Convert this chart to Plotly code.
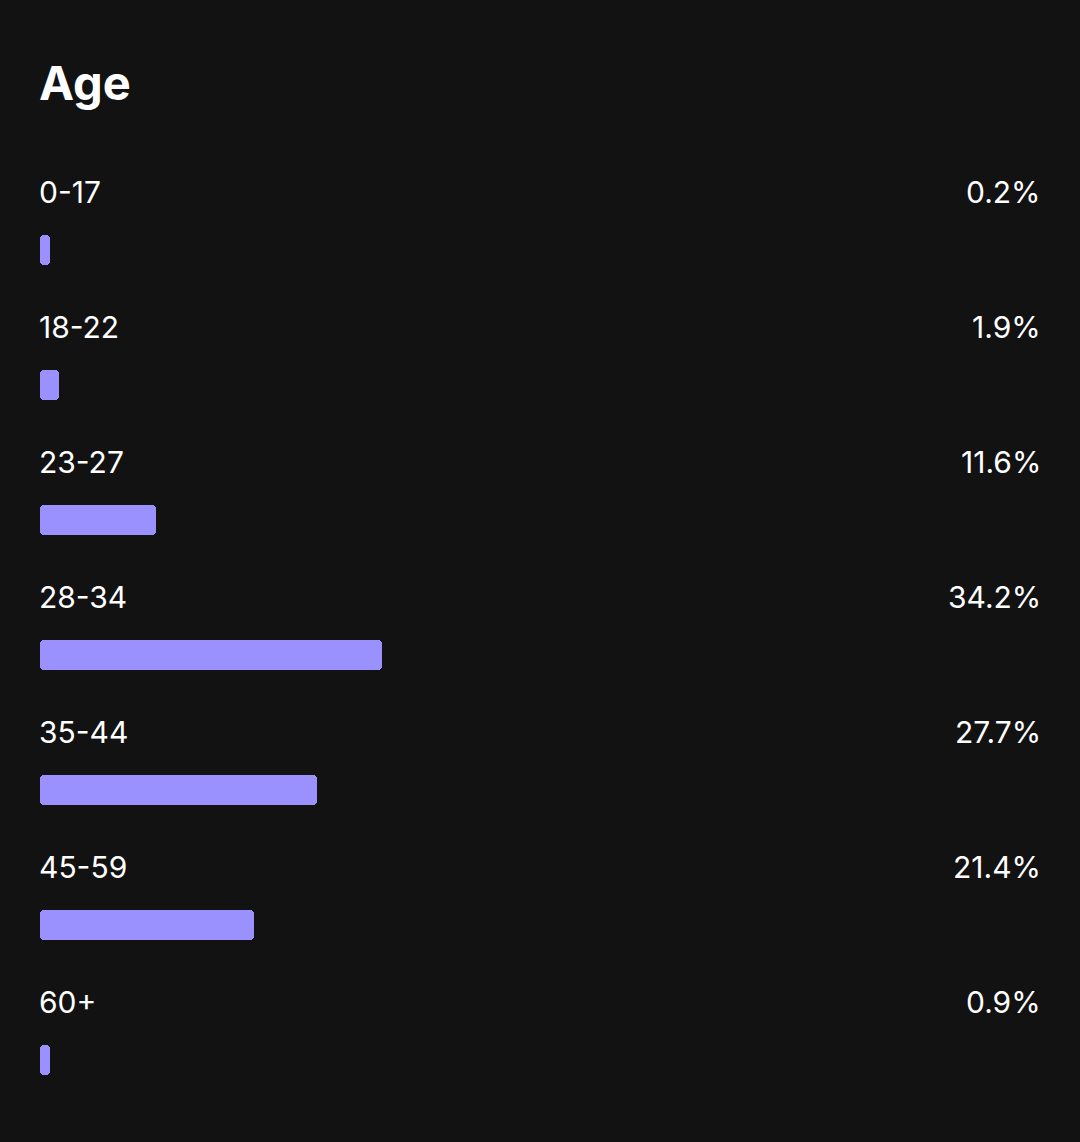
import numpy as np
import plotly.graph_objects as go

# age distribution
age_groups = ["0-17", "18-22", "23-27", "28-34", "35-44", "45-59", "60+"]
shares = [0.2, 1.9, 11.6, 34.2, 27.7, 21.4, 0.9]
value_labels = ["0.2%", "1.9%", "11.6%", "34.2%", "27.7%", "21.4%", "0.9%"]

BG = "#121212"
BAR = "#9a91ff"
FONT = "Inter"

W, H = 1080, 1142
row_h = 135
first_bar = 250  # pixel centre of first bar
label_off = -58  # label centre relative to bar centre

shares = np.array(shares)
shown = np.maximum(shares, 1.0)  # bars never thinner than a stub
rows = first_bar + row_h * np.arange(len(age_groups))

fig = go.Figure()

# each bar is drawn as two overlapping halves so both ends get rounded
half = shown / 2
fig.add_trace(go.Bar(x=shown - (half - 0.3), base=half - 0.3, y=rows, orientation="h", width=30,
                     marker=dict(color=BAR, cornerradius=4, line=dict(width=0)),
                     hoverinfo="skip"))
fig.add_trace(go.Bar(x=-(half + 0.3), base=half + 0.3, y=rows, orientation="h", width=30,
                     marker=dict(color=BAR, cornerradius=4, line=dict(width=0)),
                     hoverinfo="skip"))

for name, lab, yy in zip(age_groups, value_labels, rows):
    fig.add_annotation(x=0, y=yy + label_off, xref="paper", yref="y", text=name,
                       showarrow=False, xanchor="left", yanchor="middle", xshift=-3,
                       font=dict(family=FONT, size=30, color="white"))
    fig.add_annotation(x=1, y=yy + label_off, xref="paper", yref="y", text=lab,
                       showarrow=False, xanchor="right", yanchor="middle", xshift=3,
                       font=dict(family=FONT, size=30, color="white"))

fig.add_annotation(x=0, y=82, xref="paper", yref="y", text="<b>Age</b>",
                   showarrow=False, xanchor="left", yanchor="middle", xshift=-3,
                   font=dict(family=FONT, size=47, color="white"))

fig.update_layout(
    width=W, height=H,
    margin=dict(l=40, r=40, t=0, b=0),
    paper_bgcolor=BG, plot_bgcolor=BG,
    barmode="overlay", showlegend=False, bargap=0,
)
fig.update_xaxes(range=[0, 100], visible=False, fixedrange=True)
fig.update_yaxes(range=[H, 0], visible=False, fixedrange=True)

fig.write_html("out.html", config={"displayModeBar": False},
               post_script="document.body.style.margin='0';"
                           "document.body.style.background='%s';" % BG)
